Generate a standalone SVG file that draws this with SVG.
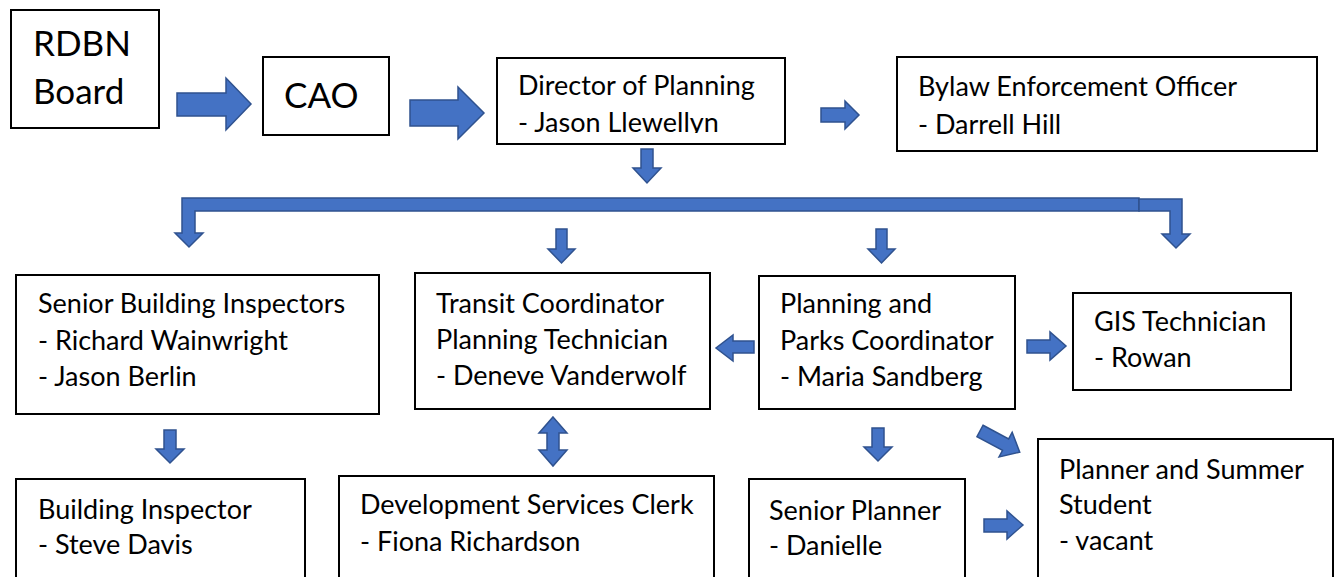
<svg xmlns="http://www.w3.org/2000/svg" width="1337" height="577" viewBox="0 0 1337 577">
<style>
.box{fill:#fff;stroke:#000;stroke-width:2}
.t{font-family:Lato,"Liberation Sans",sans-serif;font-size:27px;fill:#000}
.big{font-family:Lato,"Liberation Sans",sans-serif;font-size:35px;fill:#000}
.arr{fill:#4472C4;stroke:#2F528F;stroke-width:1.5;stroke-linejoin:miter}
</style>
<defs>
<clipPath id="dirclip"><rect x="497" y="58" width="288" height="75"/></clipPath>
</defs>
<rect width="1337" height="577" fill="#fff"/>
<g id="connectors">
<path class="arr" d="M177,93 H226 V78 L251,104 L226,130 V116 H177 Z"/>
<path class="arr" d="M410,100 H458 V87 L484,113 L458,139 V126 H410 Z"/>
<path class="arr" d="M821,108 H845 V101 L859,115 L845,129 V122 H821 Z"/>
<path class="arr" d="M641,149 H653 V168 H661 L647,183 L633,168 H641 Z"/>
<path class="arr" d="M1139,198 H182 V233 H175 L189,247 L203,233 H195 V211 H1139 Z"/>
<path class="arr" d="M1139,199 H1182 V234 H1190 L1176,248 L1162,234 H1170 V211 H1139 Z"/>
<path class="arr" d="M556,229 H567 V249 H575 L561.5,263 L548,249 H556 Z"/>
<path class="arr" d="M876,229 H887 V249 H895 L881.5,263 L868,249 H876 Z"/>
<path class="arr" d="M754,341 H733 V335 L716,348 L733,361 V353 H754 Z"/>
<path class="arr" d="M1027,340 H1050 V332 L1066,346 L1050,360 V353 H1027 Z"/>
<path class="arr" d="M164,430 H176 V449 H184 L170,463 L156,449 H164 Z"/>
<path class="arr" d="M872,428 H884 V447 H892 L878,461 L864,447 H872 Z"/>
<path class="arr" d="M553,417 L567,433 H559 V450 H567 L553,466 L539,450 H547 V433 H539 Z"/>
<path class="arr" d="M984,519 H1007 V511 L1023,525 L1007,539 V532 H984 Z"/>
<path class="arr" transform="translate(980,431) rotate(28)" d="M0,-6.5 H29 V-14 L45,0 L29,14 V6.5 H0 Z"/>
</g>
<g id="rdbn">
<rect class="box" x="11" y="10" width="148" height="118"/>
<text class="big" x="33" y="56">RDBN</text>
<text class="big" x="33" y="104">Board</text>
</g>
<g id="cao">
<rect class="box" x="263" y="57" width="126" height="78"/>
<text class="big" x="284" y="108">CAO</text>
</g>
<g id="director">
<rect class="box" x="497" y="58" width="288" height="86"/>
<g clip-path="url(#dirclip)">
<text class="t" x="518" y="95">Director of Planning</text>
<text class="t" x="518" y="132">- Jason Llewellyn</text>
</g>
</g>
<g id="bylaw">
<rect class="box" x="897" y="57" width="420" height="94"/>
<text class="t" x="918" y="96">Bylaw Enforcement Officer</text>
<text class="t" x="918" y="134">- Darrell Hill</text>
</g>
<g id="senior-building">
<rect class="box" x="16" y="275" width="363" height="139"/>
<text class="t" x="38" y="313">Senior Building Inspectors</text>
<text class="t" x="38" y="350">- Richard Wainwright</text>
<text class="t" x="38" y="386">- Jason Berlin</text>
</g>
<g id="transit">
<rect class="box" x="415" y="273" width="295" height="136"/>
<text class="t" x="436" y="313">Transit Coordinator</text>
<text class="t" x="436" y="349">Planning Technician</text>
<text class="t" x="436" y="385">- Deneve Vanderwolf</text>
</g>
<g id="planning-parks">
<rect class="box" x="759" y="276" width="256" height="133"/>
<text class="t" x="780" y="313">Planning and</text>
<text class="t" x="780" y="350">Parks Coordinator</text>
<text class="t" x="780" y="386">- Maria Sandberg</text>
</g>
<g id="gis">
<rect class="box" x="1073" y="293" width="218" height="97"/>
<text class="t" x="1094" y="331">GIS Technician</text>
<text class="t" x="1094" y="367">- Rowan</text>
</g>
<g id="building-inspector">
<rect class="box" x="16" y="479" width="289" height="110"/>
<text class="t" x="38" y="519">Building Inspector</text>
<text class="t" x="38" y="554">- Steve Davis</text>
</g>
<g id="dev-clerk">
<rect class="box" x="339" y="476" width="375" height="113"/>
<text class="t" x="360" y="514">Development Services Clerk</text>
<text class="t" x="360" y="551">- Fiona Richardson</text>
</g>
<g id="senior-planner">
<rect class="box" x="749" y="479" width="216" height="110"/>
<text class="t" x="769" y="520">Senior Planner</text>
<text class="t" x="769" y="555">- Danielle</text>
</g>
<g id="planner-student">
<rect class="box" x="1038" y="439" width="295" height="150"/>
<text class="t" x="1059" y="479">Planner and Summer</text>
<text class="t" x="1059" y="514">Student</text>
<text class="t" x="1059" y="550">- vacant</text>
</g>
</svg>
